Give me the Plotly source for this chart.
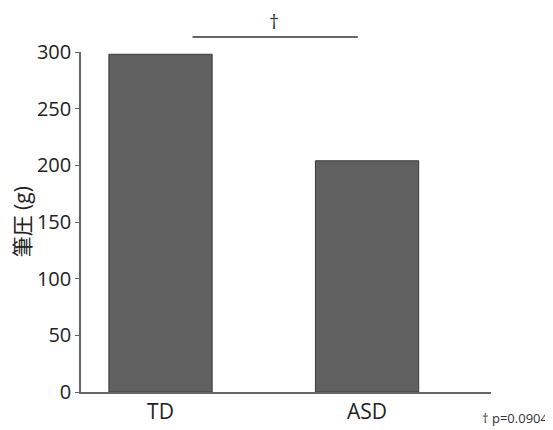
import plotly.graph_objects as go

groups = ["TD", "ASD"]
pressure_g = [298, 204]
y_ticks = [0, 50, 100, 150, 200, 250, 300]
sig_mark = "†"
p_note = "† p=0.0904"
y_title = "筆圧 (g)"

FONT = "Open Sans, Noto Sans CJK JP, sans-serif"

fig = go.Figure()
fig.add_trace(go.Bar(
    x=groups, y=pressure_g, width=0.5,
    marker=dict(color="#606060", line=dict(color="#3a3a3a", width=1)),
    showlegend=False,
))

# significance bracket between groups
fig.add_shape(type="line", xref="x", yref="paper", x0=0.155, x1=0.955, y0=1.044, y1=1.044,
              line=dict(color="#333333", width=1.5))
fig.add_annotation(xref="x", yref="paper", x=0.55, y=1.09, text=sig_mark, showarrow=False,
                   font=dict(family=FONT, size=20, color="#333333"), yanchor="middle")
fig.add_annotation(xref="paper", yref="paper", x=1.146, y=-0.076, text=p_note, showarrow=False,
                   xanchor="right", yanchor="middle",
                   font=dict(family=FONT, size=13, color="#333333"))
# y-axis title
fig.add_annotation(xref="paper", yref="paper", x=-0.143, y=0.5, text=y_title, showarrow=False,
                   textangle=-90, xanchor="center", yanchor="middle", borderpad=0,
                   font=dict(family=FONT, size=21, color="#222222"))

fig.update_layout(
    width=545, height=422,
    margin=dict(l=73, r=62, t=44, b=38, autoexpand=False),
    paper_bgcolor="white", plot_bgcolor="white",
    font=dict(family=FONT, color="#222222"),
    xaxis=dict(range=[-0.385, 1.6], showline=True, linecolor="#666666", linewidth=1.5,
               ticks="", tickfont=dict(size=21, color="#222222"), showgrid=False,
               automargin=False),
    yaxis=dict(range=[0, 300], tickvals=y_ticks, showline=True, linecolor="#666666", linewidth=1.5,
               ticks="outside", ticklen=4, tickcolor="#666666",
               tickfont=dict(size=20, color="#222222"), showgrid=False, zeroline=False,
               automargin=False),
    bargap=0.5,
)

fig.write_html("out.html")
